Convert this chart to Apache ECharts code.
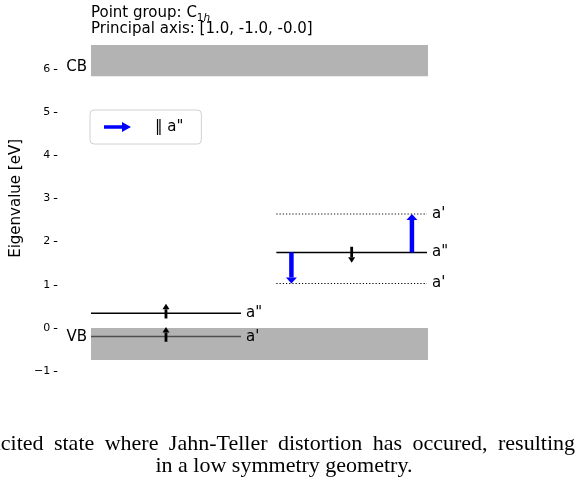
<!DOCTYPE html>
<html>
<head>
<meta charset="utf-8">
<script src="https://cdn.jsdelivr.net/npm/echarts@6/dist/echarts.min.js"></script>
<style>
  html, body { margin: 0; padding: 0; background: #fff; }
  #chart { width: 578px; height: 489px; }
</style>
</head>
<body>
<div id="chart"></div>
<script>
// Energy axis ticks (eV)
const yTicks = [-1, 0, 1, 2, 3, 4, 5, 6];

// Band edges: conduction band (CB) and valence band (VB)
const bandNames = ['CB', 'VB'];
const bandLow = [5.83, -0.74];
const bandHigh = [6.55, 0.0];
const bandLabelAt = [6.03, -0.2];

// Defect levels: energy, irreducible representation, column (0 = ground, 1 = excited)
const levelEnergy = [0.34, -0.2, 1.75, 2.64, 1.03];
const levelIrrep = ['a"', "a'", 'a"', "a'", "a'"];
const levelColumn = [0, 0, 1, 1, 1];
const levelOccupied = [true, true, true, false, false];

// Spin arrows (start / end energy) drawn on occupied levels
const spinColumn = [0, 0, 1];
const spinFrom = [0.22, -0.32, 1.88];
const spinTo = [0.56, 0.02, 1.51];

// Allowed transitions from the a" level (polarisation ∥ a")
const transFrom = [1.75, 1.75];
const transTo = [1.03, 2.64];
const transPos = [0.1, 0.9];     // fraction along the excited column
const transName = '\u2016 a"';

// Caption below the figure
const captionLines = [
  'excited state where Jahn-Teller distortion has occured, resulting',
  'in a low symmetry geometry.'
];

const FONT = 'DejaVu Sans';
const SERIF = 'Liberation Serif';
const colStart = [0, 0.55];
const colEnd = [0.445, 0.997];

function colMid(c) { return (colStart[c] + colEnd[c]) / 2; }

function arrowShape(api, x, y0, y1, shaftW, headHalf, headLen, color) {
  const p0 = api.coord([x, y0]);
  const p1 = api.coord([x, y1]);
  const dir = p1[1] > p0[1] ? 1 : -1;
  const hb = p1[1] - dir * headLen;
  return {
    type: 'group',
    children: [
      { type: 'polygon', shape: { points: [
          [p0[0] - shaftW / 2, p0[1]], [p0[0] + shaftW / 2, p0[1]],
          [p0[0] + shaftW / 2, hb], [p0[0] - shaftW / 2, hb]] },
        style: { fill: color } },
      { type: 'polygon', shape: { points: [
          [p1[0], p1[1]], [p1[0] - headHalf, hb], [p1[0] + headHalf, hb]] },
        style: { fill: color } }
    ]
  };
}

// Justified caption line: words spread evenly between left and right edges
const capSize = 22;
const measureCtx = document.createElement('canvas').getContext('2d');
measureCtx.font = capSize + 'px "' + SERIF + '"';
function justifiedWords(text, left, right, y) {
  const words = text.split(' ');
  const widths = words.map(w => measureCtx.measureText(w).width);
  const total = widths.reduce((a, b) => a + b, 0);
  const gap = (right - left - total) / (words.length - 1);
  let x = left;
  return words.map((w, i) => {
    const el = { type: 'text', x: x, y: y,
      style: { text: w, fontSize: capSize, fontFamily: SERIF, fill: '#000', align: 'left', verticalAlign: 'middle' } };
    x += widths[i] + gap;
    return el;
  });
}

const levelData = levelEnergy.map((e, i) => [colStart[levelColumn[i]], colEnd[levelColumn[i]], e, i]);
const bandData = bandNames.map((n, i) => [0, 1, bandLow[i], bandHigh[i], i]);
const spinData = spinColumn.map((c, i) => [colMid(c), spinFrom[i], spinTo[i]]);
const transData = transFrom.map((f, i) =>
  [colStart[1] + transPos[i] * (colEnd[1] - colStart[1]), f, transTo[i]]);

const chart = echarts.init(document.getElementById('chart'), null, { renderer: 'canvas' });

chart.setOption({
  animation: false,
  backgroundColor: '#fff',
  title: {
    left: 91, top: 5, padding: 0,
    text: '{t|Point group: C}{s|1}{si|h}\n{t|Principal axis: [1.0, -1.0, -0.0]}',
    textStyle: {
      fontWeight: 'normal',
      rich: {
        t: { fontSize: 15, fontFamily: FONT, fontWeight: 'normal', color: '#000', lineHeight: 16 },
        s: { fontSize: 10.5, fontFamily: FONT, fontWeight: 'normal', color: '#000', lineHeight: 16, verticalAlign: 'bottom', padding: [0, 0, -3, 0] },
        si: { fontSize: 10.5, fontFamily: FONT, fontWeight: 'normal', fontStyle: 'italic', color: '#000', lineHeight: 16, verticalAlign: 'bottom', padding: [0, 0, -3, 0] }
      }
    }
  },
  legend: {
    left: 90, top: 110,
    selectedMode: false,
    data: [{
      name: transName,
      icon: 'path://M0,3.2 L18,3.2 L18,0 L27,5 L18,10 L18,6.8 L0,6.8 Z',
      itemStyle: { color: '#0000ff' }
    }],
    itemWidth: 27, itemHeight: 10,
    padding: [9.5, 18, 9.5, 14],
    backgroundColor: '#fff',
    borderColor: '#d0d0d0', borderWidth: 1, borderRadius: 4,
    textStyle: { fontSize: 15, fontFamily: FONT, color: '#000', padding: [0, 0, 0, 19] }
  },
  grid: { left: 57.3, right: 150, top: 17, bottom: 109.2, containLabel: false },
  xAxis: { type: 'value', min: -0.1, max: 1, show: false },
  yAxis: {
    type: 'value', min: -1.2, max: 7.2,
    axisLine: { show: false, onZero: false },
    splitLine: { show: false },
    axisTick: { show: true, length: 3.5, lineStyle: { color: '#000', width: 1 }, customValues: yTicks },
    axisLabel: {
      customValues: yTicks, margin: 7, fontSize: 11, fontFamily: FONT, color: '#000',
      formatter: v => (v < 0 ? '\u2212' + Math.abs(v) : String(v))
    },
    name: 'Eigenvalue [eV]', nameLocation: 'middle', nameRotate: 90, nameGap: 31,
    nameTextStyle: { fontSize: 15, fontFamily: FONT, color: '#000' }
  },
  series: [
    {
      type: 'custom', name: 'levels', z: 2, silent: true,
      data: levelData,
      renderItem: (params, api) => {
        const i = api.value(3);
        const a = api.coord([api.value(0), api.value(2)]);
        const b = api.coord([api.value(1), api.value(2)]);
        const dotted = !levelOccupied[i];
        return { type: 'line', shape: { x1: a[0], y1: a[1], x2: b[0], y2: b[1] },
          style: { stroke: '#000', lineWidth: dotted ? 1.1 : 1.5, lineDash: dotted ? [1.2, 2] : null } };
      }
    },
    {
      type: 'custom', name: 'bands', z: 3, silent: true,
      data: bandData,
      renderItem: (params, api) => {
        const i = api.value(4);
        const tl = api.coord([api.value(0), api.value(3)]);
        const br = api.coord([api.value(1), api.value(2)]);
        const lab = api.coord([api.value(0), bandLabelAt[i]]);
        return {
          type: 'group',
          children: [
            { type: 'rect', shape: { x: tl[0], y: tl[1], width: br[0] - tl[0], height: br[1] - tl[1] },
              style: { fill: 'rgba(128,128,128,0.6)' } },
            { type: 'text', x: lab[0] - 4, y: lab[1],
              style: { text: bandNames[i], fill: '#000', fontSize: 15, fontFamily: FONT, align: 'right', verticalAlign: 'middle' } }
          ]
        };
      }
    },
    {
      type: 'custom', name: 'level labels', z: 5, silent: true,
      data: levelData,
      renderItem: (params, api) => {
        const i = api.value(3);
        const b = api.coord([api.value(1), api.value(2)]);
        return { type: 'text', x: b[0] + 5, y: b[1],
          style: { text: levelIrrep[i], fill: '#000', fontSize: 15, fontFamily: FONT, align: 'left', verticalAlign: 'middle' } };
      }
    },
    {
      type: 'custom', name: 'spins', z: 4, silent: true,
      data: spinData,
      renderItem: (params, api) =>
        arrowShape(api, api.value(0), api.value(1), api.value(2), 2.8, 3.5, 5.5, '#000')
    },
    {
      type: 'custom', name: transName, z: 4, silent: true,
      itemStyle: { color: '#0000ff' },
      data: transData,
      renderItem: (params, api) =>
        arrowShape(api, api.value(0), api.value(1), api.value(2), 4.5, 5.5, 6, '#0000ff')
    }
  ],
  graphic: justifiedWords(captionLines[0], -20, 575, 444).concat([
    { type: 'text', x: 284, y: 466,
      style: { text: captionLines[1], fontSize: capSize, fontFamily: SERIF, fill: '#000', align: 'center', verticalAlign: 'middle' } }
  ])
});
</script>
</body>
</html>
